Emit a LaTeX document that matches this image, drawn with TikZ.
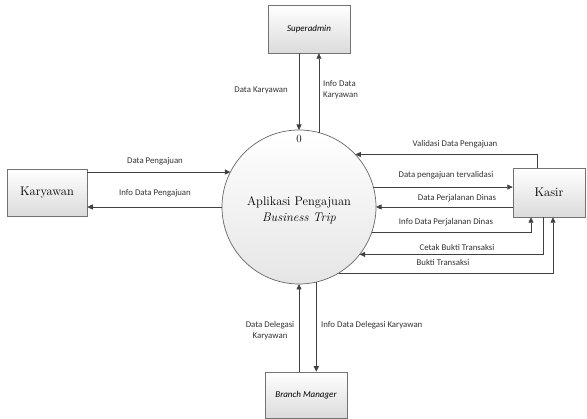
\documentclass[tikz,border=0pt]{standalone}
\usepackage{fontspec}
\newfontfamily\lblfont{Carlito}
\usetikzlibrary{arrows.meta,shadows}
\begin{document}
\begin{tikzpicture}[x=1pt,y=-1pt,
  flow/.style={draw=black!75, line width=0.7pt, -{Triangle[length=5.5pt,width=5pt]}},
  lbl/.style={font=\lblfont\fontsize{8.8}{11}\selectfont, text=black!80, inner sep=1pt},
  ent/.style={draw=black!55, line width=0.5pt, top color=white, bottom color=black!14,
    drop shadow={opacity=0.25,shadow xshift=1.2pt,shadow yshift=-1.2pt}, inner sep=0pt},
  bigtxt/.style={font=\rmfamily\fontsize{12.5}{16}\selectfont},
  smalltxt/.style={font=\lblfont\itshape\fontsize{9}{11}\selectfont}
]
\useasboundingbox (0,0) rectangle (587,419);

\node[ent, bigtxt, minimum width=80pt, minimum height=47pt] (kar) at (47,192.5) {Karyawan};
\node[ent, smalltxt, minimum width=82pt, minimum height=48pt] (sa) at (309,29) {Superadmin};
\node[ent, bigtxt, minimum width=72pt, minimum height=49pt] (kas) at (549,192.5) {Kasir};
\node[ent, smalltxt, minimum width=82pt, minimum height=46pt] (bm) at (306,395) {Branch Manager};

\node[circle, draw=black!60, line width=0.7pt, top color=white, bottom color=black!10,
  minimum size=154pt, inner sep=0pt, outer sep=0pt] (c) at (299,207) {};
\node[font=\rmfamily\fontsize{11}{13}\selectfont, inner sep=0pt] (cnum) at (299,139) {0};
\node[bigtxt, align=center, inner sep=0pt] (ctitle) at (299,210) {Aplikasi Pengajuan\\\textit{Business Trip}};

% Superadmin
\draw[flow] (sa.south -| c.90) -- (c.90);
\draw[flow] (c.75.7) -- (c.75.7 |- sa.south);
% Karyawan
\draw[flow] (kar.east |- c.153.8) -- (c.153.8);
\draw[flow] (c.180) -- (c.180 -| kar.east);
% Kasir
\draw[flow] ([xshift=-12pt]kas.north) |- (c.43.5);
\draw[flow] (c.15.8) -- (c.15.8 -| kas.west);
\draw[flow] (kas.west |- c.0) -- (c.0);
\draw[flow] (c.-19.7) -| ([xshift=-18pt]kas.south);
\draw[flow] ([xshift=-6pt]kas.south) |- (c.-38.6);
\draw[flow] (c.-59) -| ([xshift=4pt]kas.south);
% Branch Manager
\draw[flow] (bm.north -| c.-90) -- (c.-90);
\draw[flow] (c.-77.3) -- (c.-77.3 |- bm.north);

% labels
\node[lbl, anchor=east] (l1) at (289,90) {Data Karyawan};
\node[lbl, anchor=west, align=left] (l2) at (322,90) {Info Data\\Karyawan};
\node[lbl] (l3) at (155,161) {Data Pengajuan};
\node[lbl] (l4) at (155,193) {Info Data Pengajuan};
\node[lbl] (l5) at (455,144) {Validasi Data Pengajuan};
\node[lbl] (l6) at (446,175) {Data pengajuan tervalidasi};
\node[lbl] (l7) at (457,198) {Data Perjalanan Dinas};
\node[lbl] (l8) at (446,222) {Info Data Perjalanan Dinas};
\node[lbl] (l9) at (457,247) {Cetak Bukti Transaksi};
\node[lbl] (l10) at (443,262) {Bukti Transaksi};
\node[lbl, align=center] (l11) at (270,331) {Data Delegasi\\Karyawan};
\node[lbl, anchor=west] (l12) at (320,325) {Info Data Delegasi Karyawan};
\end{tikzpicture}
\end{document}
